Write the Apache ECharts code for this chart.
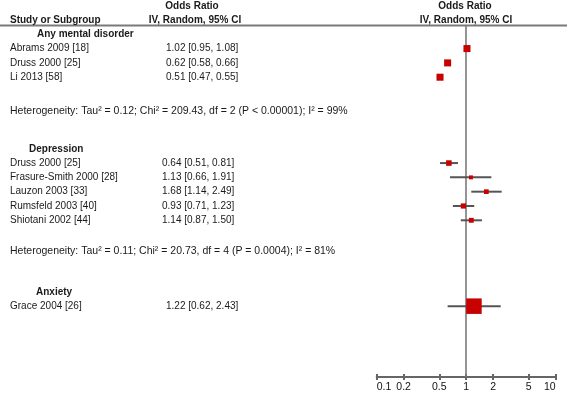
<!DOCTYPE html>
<html>
<head>
<meta charset="utf-8">
<script src="https://cdn.jsdelivr.net/npm/echarts@6/dist/echarts.min.js"></script>
<style>
html,body{margin:0;padding:0;background:#fff;}
#chart{width:567px;height:393px;}
</style>
</head>
<body>
<div id="chart"></div>
<script>
// ---- data ----
const groups = ['Any mental disorder', 'Depression', 'Anxiety'];
const studies = ['Abrams 2009 [18]', 'Druss 2000 [25]', 'Li 2013 [58]',
  'Druss 2000 [25]', 'Frasure-Smith 2000 [28]', 'Lauzon 2003 [33]', 'Rumsfeld 2003 [40]', 'Shiotani 2002 [44]',
  'Grace 2004 [26]'];
const studyGroup = [0, 0, 0, 1, 1, 1, 1, 1, 2];
const oddsRatio = [1.02, 0.62, 0.51, 0.64, 1.13, 1.68, 0.93, 1.14, 1.22];
const ciLow = [0.95, 0.58, 0.47, 0.51, 0.66, 1.14, 0.71, 0.87, 0.62];
const ciHigh = [1.08, 0.66, 0.55, 0.81, 1.91, 2.49, 1.23, 1.50, 2.43];
const weightPct = [33.4, 33.3, 33.3, 24, 15, 19, 22, 20, 100];
const heterogeneity = [
  'Heterogeneity: Tau\u00b2 = 0.12; Chi\u00b2 = 209.43, df = 2 (P < 0.00001); I\u00b2 = 99%',
  'Heterogeneity: Tau\u00b2 = 0.11; Chi\u00b2 = 20.73, df = 4 (P = 0.0004); I\u00b2 = 81%',
  null
];
const xTicks = [0.1, 0.2, 0.5, 1, 2, 5, 10];
const xTickLabels = ['0.1', '0.2', '0.5', '1', '2', '5', '10'];
const headerLeft = ['Study or Subgroup'];
const headerMid = ['Odds Ratio', 'IV, Random, 95% CI'];
const headerRight = ['Odds Ratio', 'IV, Random, 95% CI'];

// ---- layout (row indices) ----
const groupHeaderX = [37, 29, 36];
const valueColX = [166, 162, 166];
const hetOffset = [1.37, 1.17];
const groupRow = [], studyRow = [], hetRow = [];
let r = 0;
groups.forEach((g, gi) => {
  groupRow[gi] = r; r++;
  studies.forEach((s, i) => { if (studyGroup[i] === gi) { studyRow[i] = r; r++; } });
  if (heterogeneity[gi]) hetRow[gi] = r + hetOffset[gi];
  r += 4;
});

const FONT = '"Liberation Sans", Arial, sans-serif';
const TXT = '#1a1a1a';
function boxSize(w) { return 0.563 * Math.pow(w, 0.72); }
function fmt(i) {
  return oddsRatio[i].toFixed(2) + ' [' + ciLow[i].toFixed(2) + ', ' + ciHigh[i].toFixed(2) + ']';
}

const chart = echarts.init(document.getElementById('chart'), null, {renderer: 'canvas'});
const yMin = -0.578, yMax = 23.95;
const option = {
  animation: false,
  grid: {left: 376.7, right: 11.3, top: 26, bottom: 15, containLabel: false},
  xAxis: [{
    type: 'log', logBase: 10, min: 0.1, max: 10, position: 'bottom',
    axisLine: {show: true, onZero: false, lineStyle: {color: '#666', width: 2}},
    axisTick: {show: true, customValues: xTicks, length: 3, lineStyle: {color: '#666', width: 2}},
    minorTick: {show: false},
    splitLine: {show: false},
    axisLabel: {
      customValues: xTicks, margin: 5, fontSize: 10.5, color: '#111', fontFamily: FONT,
      alignMinLabel: 'left', alignMaxLabel: 'right',
      formatter: function (v) { const k = xTicks.findIndex(t => Math.abs(t - v) < 1e-9); return k >= 0 ? xTickLabels[k] : ''; }
    }
  }, {
    type: 'log', logBase: 10, min: 0.1, max: 10, position: 'bottom',
    axisLine: {show: false, onZero: false},
    axisTick: {show: true, inside: true, customValues: xTicks, length: 3, lineStyle: {color: '#666', width: 2}},
    axisLabel: {show: false}, splitLine: {show: false}, minorTick: {show: false}
  }],
  yAxis: {type: 'value', inverse: true, min: yMin, max: yMax, show: false, splitLine: {show: false}},
  series: [{
    type: 'custom',
    xAxisIndex: 0,
    data: studies.map((s, i) => [ciLow[i], ciHigh[i], studyRow[i]]),
    encode: {x: [0, 1], y: 2},
    renderItem: function (params, api) {
      const p1 = api.coord([api.value(0), api.value(2)]);
      const p2 = api.coord([api.value(1), api.value(2)]);
      return {type: 'line', shape: {x1: p1[0], y1: p1[1], x2: p2[0], y2: p2[1]},
        style: {stroke: '#555', lineWidth: 2}};
    },
    z: 3
  }, {
    type: 'scatter',
    xAxisIndex: 0,
    data: studies.map((s, i) => [oddsRatio[i], studyRow[i], weightPct[i]]),
    symbol: 'rect',
    symbolSize: function (v) { return boxSize(v[2]); },
    itemStyle: {color: '#c80000', opacity: 1},
    z: 4,
    markLine: {
      symbol: 'none', silent: true, label: {show: false},
      lineStyle: {color: '#7a7a7a', width: 1.6, type: 'solid'},
      data: [{xAxis: 1}],
      z: 2
    }
  }]
};
chart.setOption(option);

function rowY(row) { return chart.convertToPixel({gridIndex: 0}, [1, row])[1]; }
function txt(text, x, y, opts) {
  opts = opts || {};
  return {
    type: 'text', x: x, y: y, silent: true, z: 10,
    style: {
      text: text, fill: TXT,
      font: (opts.bold ? 'bold ' : '') + (opts.size || 10) + 'px ' + FONT,
      textAlign: opts.align || 'left', textVerticalAlign: 'middle',
      align: opts.align || 'left', verticalAlign: 'middle'
    }
  };
}
const els = [];
els.push({type: 'line', shape: {x1: 0, y1: 25.5, x2: 567, y2: 25.5}, style: {stroke: '#7a7a7a', lineWidth: 1.8}, silent: true});
els.push(txt(headerMid[0], 192, 6.5, {bold: true, align: 'center'}));
els.push(txt(headerLeft[0], 10, 20, {bold: true}));
els.push(txt(headerMid[1], 195, 20, {bold: true, align: 'center'}));
els.push(txt(headerRight[0], 465, 6.5, {bold: true, align: 'center'}));
els.push(txt(headerRight[1], 466, 20, {bold: true, align: 'center'}));
groups.forEach((g, gi) => {
  els.push(txt(g, groupHeaderX[gi], rowY(groupRow[gi]), {bold: true}));
  if (heterogeneity[gi]) els.push(txt(heterogeneity[gi], 10, rowY(hetRow[gi]), {size: 10.5}));
});
studies.forEach((s, i) => {
  const y = rowY(studyRow[i]);
  els.push(txt(s, 10, y));
  els.push(txt(fmt(i), valueColX[studyGroup[i]], y));
});
chart.setOption({graphic: {elements: els}});
</script>
</body>
</html>
